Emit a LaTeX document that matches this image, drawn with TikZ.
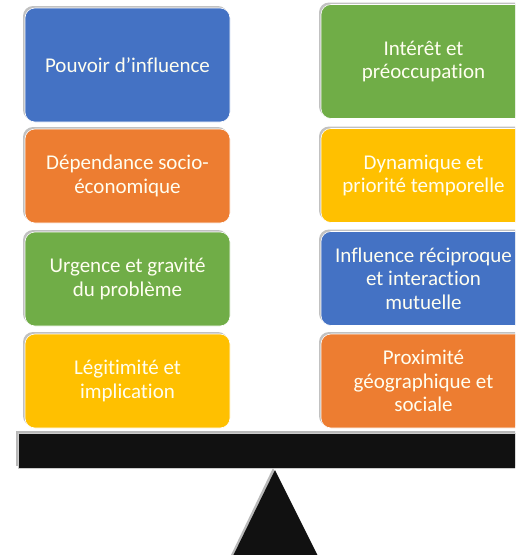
\documentclass[tikz,border=0pt]{standalone}
\usepackage{fontspec}
\setmainfont{Carlito}[RawFeature={-liga;-clig;-calt}]
\usetikzlibrary{shadows}
\definecolor{cblue}{HTML}{4472C4}
\definecolor{corange}{HTML}{ED7D31}
\definecolor{cgreen}{HTML}{70AD47}
\definecolor{cyellow}{HTML}{FFC000}
\definecolor{cbeam}{HTML}{111111}
\tikzset{
  card/.style   = {rectangle, rounded corners=10pt, draw=white, line width=0.6pt,
                   minimum width=205pt, minimum height=94pt, inner sep=0pt,
                   align=center, text=white!94!yellow,
                   font=\fontsize{21}{23.5}\selectfont,
                   drop shadow={shadow xshift=-2pt, shadow yshift=2pt,
                                fill=gray!70, opacity=0.7}},
  tallcard/.style = {card, minimum height=114pt},
  beam/.style   = {fill=cbeam, draw=gray!40, line width=0.5pt},
}

\begin{document}
\begin{tikzpicture}[x=1pt,y=-1pt]
  \path[use as bounding box, clip] (0,0) rectangle (515,555);

  % ---- left column -------------------------------------------------------
  \node[tallcard, fill=cblue]   (pouvoir)   at (127.5,65)  {Pouvoir d’influence};
  \node[card, fill=corange]     (dependance) at (127.5,176) {Dépendance socio-\\économique};
  \node[card, fill=cgreen]      (urgence)   at (127.5,279) {Urgence et gravité\\du problème};
  \node[card, fill=cyellow]     (legitimite) at (127.5,381) {Légitimité et\\implication};

  % ---- right column ------------------------------------------------------
  \node[tallcard, fill=cgreen]  (interet)   at (423.5,61.5)  {Intérêt et\\préoccupation};
  \node[card, fill=cyellow]     (dynamique) at (423.5,175.5) {Dynamique et\\priorité temporelle};
  \node[card, fill=cblue]       (reciproque) at (423.5,278.5) {Influence réciproque\\et interaction\\mutuelle};
  \node[card, fill=corange]     (proximite) at (423.5,381)   {Proximité\\géographique et\\sociale};

  % ---- balance -----------------------------------------------------------
  \fill[gray!55] (16,431) rectangle (530,466);
  \draw[beam] (18,433) rectangle (530,468);
  \fill[gray!55] (273,468) -- (231,555) -- (316,555) -- cycle;
  \fill[cbeam] (275,470) -- (233,556) -- (318,556) -- cycle;
\end{tikzpicture}
\end{document}
